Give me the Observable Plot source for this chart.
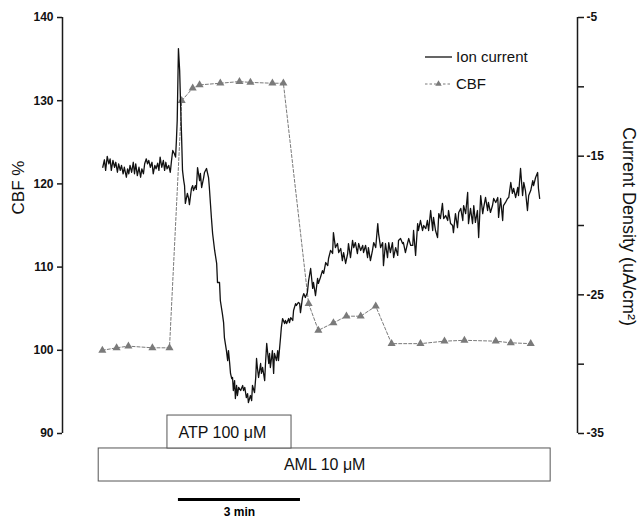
<!DOCTYPE html>
<html>
<head>
<meta charset="utf-8">
<script src="https://cdn.jsdelivr.net/npm/d3@7"></script>
<script src="https://cdn.jsdelivr.net/npm/@observablehq/plot@0.6"></script>
<style>
  body { margin: 0; background: white; }
  #chart { position: relative; width: 638px; height: 519px; }
  #chart svg { position: absolute; left: 0; top: 0; }
</style>
</head>
<body>
<div id="chart"></div>
<script>
// ---- data (time in minutes) ----
const cbfTime = [0.98, 1.33, 1.62, 2.21, 2.63, 2.93, 3.20, 3.37, 3.88, 4.35, 4.62, 5.16, 5.43, 6.05, 6.29, 6.66, 6.98, 7.33, 7.70, 8.09, 8.80, 9.39, 9.88, 10.65, 11.02, 11.51];
const cbfValue = [100.0, 100.3, 100.5, 100.3, 100.3, 130.0, 131.5, 131.9, 132.1, 132.3, 132.2, 132.1, 132.1, 105.6, 102.4, 103.3, 104.1, 104.1, 105.3, 100.8, 100.8, 101.1, 101.2, 101.1, 100.9, 100.8];

const ionTime = [0.99,1.03,1.06,1.10,1.14,1.17,1.20,1.24,1.28,1.31,1.35,1.38,1.42,1.45,1.49,1.52,1.57,1.60,1.63,1.66,1.70,1.74,1.77,1.80,1.84,1.88,1.92,1.95,1.99,2.02,2.06,2.09,2.12,2.16,2.20,2.23,2.27,2.30,2.34,2.37,2.40,2.44,2.48,2.51,2.54,2.57,2.61,2.65,2.68,2.71,2.75,2.78,2.80,2.82,2.85,2.88,2.90,2.93,2.95,2.98,
3.00,3.02,3.07,3.10,3.12,3.17,3.20,3.22,3.27,3.29,3.32,3.37,3.39,3.42,3.47,3.49,3.54,3.59,3.61,3.66,3.69,3.74,3.79,3.81,3.86,3.88,3.93,3.96,3.98,4.03,4.06,4.08,4.11,4.13,4.16,4.18,4.20,4.23,4.25,4.28,4.30,4.33,4.38,4.43,4.45,4.48,4.52,4.55,4.57,4.62,4.65,4.67,4.72,4.75,4.77,4.79,4.82,4.87,4.89,4.92,4.97,4.99,5.02,5.07,5.09,5.11,5.16,5.19,5.21,5.26,5.29,5.31,5.36,5.38,5.41,5.46,5.48,5.51,5.56,5.58,5.61,5.66,5.68,5.73,5.75,5.80,5.83,5.85,5.90,5.93,5.97,6.02,6.05,6.10,6.15,6.17,6.22,6.27,6.29,6.34,6.39,6.42,6.47,6.52,6.54,6.59,6.64,6.66,6.71,6.76,6.79,6.84,6.88,6.91,6.96,7.01,7.03,7.08,7.13,7.16,7.20,7.25,7.28,7.33,7.38,7.40,7.45,7.50,7.52,7.57,7.62,7.65,7.70,7.75,7.77,7.82,7.87,7.89,7.94,7.99,8.02,8.06,8.11,8.14,8.19,8.24,8.26,8.31,8.36,8.38,8.43,8.48,8.51,8.56,
8.61,8.63,8.68,8.73,8.75,8.80,8.85,8.88,8.93,8.97,9.00,9.05,9.10,9.12,9.17,9.22,9.25,9.29,9.34,9.37,9.42,9.47,9.49,9.54,9.59,9.61,9.66,9.71,9.74,9.79,9.84,9.86,9.91,9.96,9.98,10.03,10.08,10.11,10.15,10.20,10.23,10.28,10.33,10.35,10.40,10.45,10.47,10.52,10.57,10.60,10.65,10.70,10.72,10.77,10.82,10.84,10.89,10.94,10.97,11.02,11.06,11.09,11.14,11.19,11.21,11.26,11.31,11.34,11.38,11.43,11.46,11.51,11.56,11.58,11.63,11.68,11.70,11.73];

const ionCurrent = [-15.80,-15.26,-16.03,-15.02,-15.55,-15.19,-16.03,-15.31,-15.80,-15.44,-16.16,-15.55,-16.03,-15.67,-16.27,-15.80,-16.52,-15.91,-16.27,-15.67,-16.16,-15.44,-16.27,-15.55,-16.40,-15.80,-16.52,-15.91,-16.27,-15.55,-15.19,-15.55,-15.31,-15.80,-15.44,-16.27,-15.67,-15.91,-15.51,-16.03,-15.07,-15.80,-15.31,-16.03,-15.44,-15.91,-15.67,-16.16,-15.31,-14.59,-14.83,-15.07,-13.87,-12.43,-7.24,-8.82,-10.99,-13.87,-16.03,-16.76,
-17.12,-18.41,-17.69,-18.05,-18.49,-17.33,-17.12,-17.48,-17.12,-17.40,-15.82,-16.76,-16.25,-17.26,-16.54,-16.18,-15.89,-16.54,-17.26,-19.42,-20.58,-21.80,-22.74,-24.11,-24.11,-25.41,-26.35,-27.00,-28.08,-29.02,-29.74,-29.02,-29.95,-30.67,-31.04,-30.96,-31.90,-31.18,-32.48,-31.54,-32.26,-31.68,-31.90,-31.54,-31.90,-31.68,-32.41,-32.12,-32.77,-32.26,-32.62,-31.54,-32.05,-30.96,-29.59,-30.24,-30.96,-29.95,-30.67,-30.24,-31.18,-29.95,-28.51,-29.95,-29.23,-30.24,-29.02,-30.67,-29.23,-29.74,-29.02,-29.74,-28.08,-27.36,-26.71,-27.07,-26.85,-27.07,-26.71,-27.00,-26.64,-26.85,-26.13,-25.63,-25.77,-25.55,-25.63,-26.28,-25.19,-24.91,-25.19,-24.83,-23.97,-23.10,-24.54,-24.11,-25.05,-23.82,-24.18,-23.75,-23.25,-23.46,-22.67,-22.89,-22.38,-21.80,-22.02,-20.51,-21.59,-21.30,-21.95,-21.66,-22.53,-21.95,-22.74,-22.02,-21.30,-22.31,-21.08,-21.59,-21.23,-22.02,-21.30,-21.80,-21.44,-21.95,-21.44,-22.31,-21.59,-22.53,-21.80,-21.23,-21.59,-19.86,-20.58,-21.59,-21.23,-22.89,-21.30,-22.31,-21.23,-21.95,-21.23,-22.31,-21.59,-22.16,-21.08,-20.94,-21.30,-21.23,-21.95,-21.30,-20.94,-21.44,
-21.44,-20.36,-22.16,-19.86,-20.36,-19.64,-20.36,-20.00,-20.22,-19.64,-20.36,-18.92,-20.36,-19.42,-20.36,-20.87,-19.14,-19.50,-18.41,-19.50,-19.28,-19.64,-18.92,-19.86,-20.00,-20.51,-19.14,-20.15,-19.06,-18.77,-19.64,-18.56,-19.14,-17.62,-19.86,-18.77,-19.86,-18.56,-19.78,-18.92,-20.87,-17.84,-19.14,-18.77,-17.98,-18.92,-18.34,-19.06,-18.56,-18.05,-18.34,-17.98,-19.42,-18.05,-19.64,-18.56,-18.34,-18.05,-17.98,-16.90,-17.69,-17.33,-17.98,-17.26,-17.84,-15.89,-17.84,-16.90,-17.48,-18.92,-17.84,-17.48,-16.76,-17.12,-16.54,-16.18,-17.33,-18.05];

const stimulusLabels = ["ATP 100 μM", "AML 10 μM"];
const stimulusStart = [2.58, 0.89];
const stimulusEnd = [5.63, 12.0];
const scaleBarStart = 2.85;
const scaleBarMinutes = 3;

const cbfTicks = [90, 100, 110, 120, 130, 140];
const currentTicks = [-35, -30, -25, -20, -15, -10, -5];
const currentTickLabels = [-35, -25, -15, -5];
const timeDomain = [0, 12.66];

// ---- tables ----
const cbf = cbfTime.map((t, i) => ({t, v: cbfValue[i]}));
const n = Math.min(ionTime.length, ionCurrent.length);
const ion = d3.range(n).map(i => ({t: ionTime[i], cd: ionCurrent[i]}));
const stim = stimulusLabels.map((label, i) => ({label, start: stimulusStart[i], end: stimulusEnd[i], mid: (stimulusStart[i] + stimulusEnd[i]) / 2}));
const bar = [{start: scaleBarStart, end: scaleBarStart + scaleBarMinutes, mid: scaleBarStart + scaleBarMinutes / 2, label: scaleBarMinutes + " min"}];

const FONT = "'Liberation Sans', Arial, Helvetica, sans-serif";
const common = {
  width: 638, height: 519,
  marginTop: 17, marginBottom: 86, marginLeft: 62, marginRight: 61,
};
const AXIS = "#1a1a1a";
const GREY = "#7a7a7a";

const plotCBF = Plot.plot({
  ...common,
  x: {domain: timeDomain, axis: null},
  y: {domain: [90, 140], axis: null},
  style: {fontFamily: FONT, background: "white", overflow: "visible", color: "#111"},
  marks: [
    Plot.ruleX([timeDomain[0]], {y1: 90, y2: 140, stroke: AXIS, strokeWidth: 1.5}),
    Plot.axisY({anchor: "left", label: null, ticks: cbfTicks, tickSize: 5, tickPadding: 4, tickFormat: d => String(d),
      fontSize: 12, fontWeight: "bold", stroke: AXIS, strokeWidth: 1.5}),
    Plot.text(["CBF %"], {frameAnchor: "left", textAnchor: "middle", dx: -44, dy: -38, rotate: -90, fontSize: 17, fill: "#111"}),
    Plot.line(cbf, {x: "t", y: "v", stroke: GREY, strokeWidth: 1, strokeDasharray: "3,2"}),
    Plot.dot(cbf, {x: "t", y: "v", symbol: "triangle", r: 3, fill: GREY, stroke: "none"}),
    Plot.rect([stim[1]], {x1: "start", x2: "end", y1: 84.23, y2: 88.2, fill: "white", stroke: "#555", strokeWidth: 1}),
    Plot.rect([stim[0]], {x1: "start", x2: "end", y1: 88.2, y2: 92.16, fill: "white", stroke: "#555", strokeWidth: 1}),
    Plot.text([stim[0]], {x: "start", y: 90.1, text: "label", dx: 11, textAnchor: "start", fontSize: 16, fill: "#111"}),
    Plot.text([stim[1]], {x: "mid", y: 86.2, text: "label", fontSize: 16, fill: "#111"}),
    Plot.ruleY(bar, {x1: "start", x2: "end", y: 82.07, stroke: "#000", strokeWidth: 3}),
    Plot.text(bar, {x: "mid", y: 80.5, text: "label", fontSize: 12, fontWeight: "bold", fill: "#000"})
  ]
});

// legend
{
  const g = d3.select(plotCBF).append("g")
    .attr("font-family", FONT).attr("font-size", 15).attr("fill", "#111").attr("text-anchor", "start");
  const l1 = g.append("g").attr("transform", "translate(425,57)");
  l1.append("line").attr("x1", 0).attr("x2", 27).attr("stroke", "#111").attr("stroke-width", 1.3);
  l1.append("text").attr("x", 31).attr("dy", "0.35em").attr("text-anchor", "start").text("Ion current");
  const l2 = g.append("g").attr("transform", "translate(425,84)");
  l2.append("line").attr("x1", 0).attr("x2", 27).attr("stroke", GREY).attr("stroke-width", 1).attr("stroke-dasharray", "2.5,2");
  l2.append("path").attr("transform", "translate(13.5,0)").attr("d", d3.symbol(d3.symbolTriangle, 18)()).attr("fill", GREY);
  l2.append("text").attr("x", 31).attr("dy", "0.35em").attr("text-anchor", "start").text("CBF");
}

const plotCurrent = Plot.plot({
  ...common,
  x: {domain: timeDomain, axis: null},
  y: {domain: [-35, -5], axis: null},
  style: {fontFamily: FONT, background: "transparent", overflow: "visible", color: "#111"},
  marks: [
    Plot.ruleX([timeDomain[1]], {y1: -35, y2: -5, stroke: AXIS, strokeWidth: 1.5}),
    Plot.axisY({anchor: "right", label: null, ticks: currentTicks, tickSize: 6, tickPadding: 3,
      tickFormat: d => currentTickLabels.includes(d) ? String(d) : "",
      fontSize: 12, fontWeight: "bold", stroke: AXIS, strokeWidth: 1.5}),
    Plot.line(ion, {x: "t", y: "cd", stroke: "#111", strokeWidth: 1.3}),
    Plot.text(["Current Density (uA/cm²)"], {frameAnchor: "right", textAnchor: "middle", dx: 51, dy: 1, rotate: 90, fontSize: 18, fill: "#111"})
  ]
});

const chart = document.getElementById("chart");
chart.appendChild(plotCBF);
chart.appendChild(plotCurrent);
</script>
</body>
</html>
